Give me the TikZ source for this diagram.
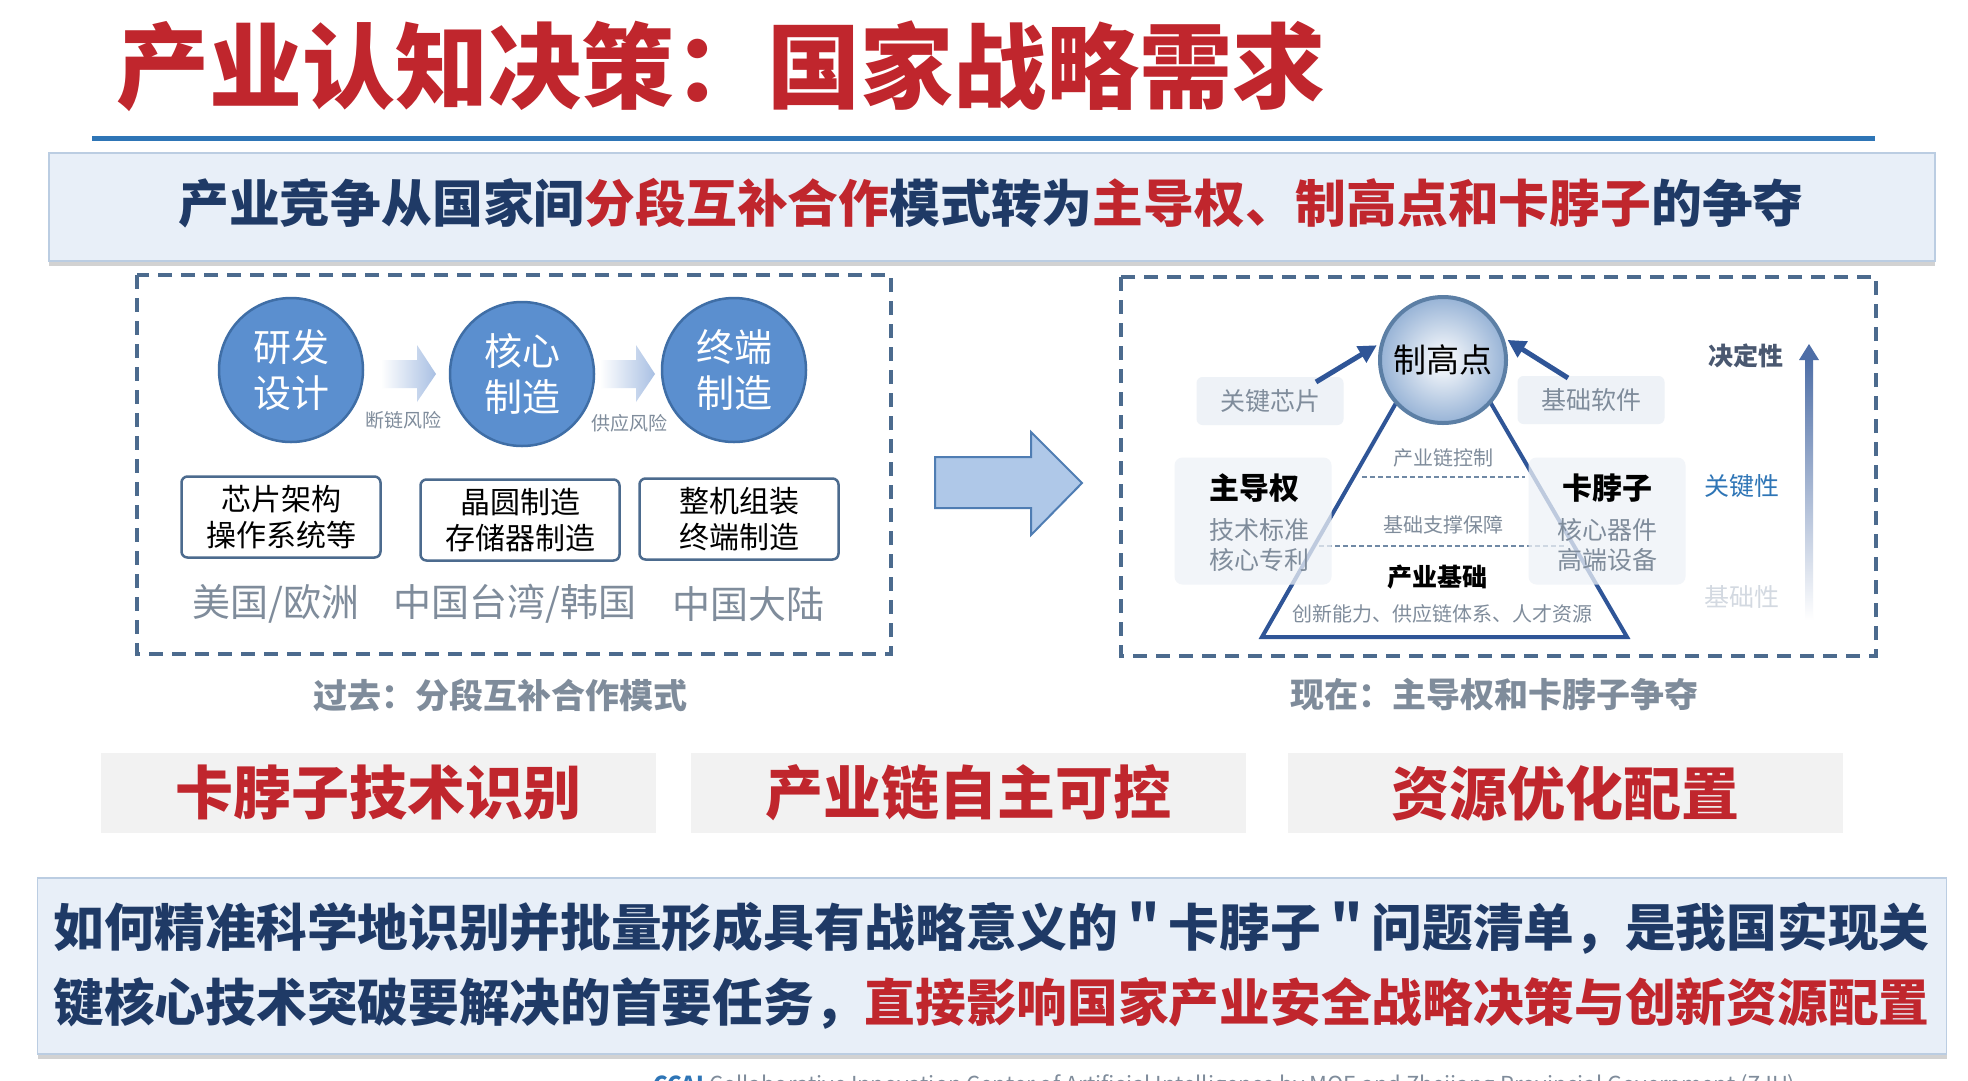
\documentclass[tikz,border=0pt]{standalone}
\usepackage{fontspec}
\setmainfont{Noto Sans CJK SC}
\usetikzlibrary{shadows,arrows.meta}
\definecolor{tred}{HTML}{C0262D}
\definecolor{navy}{HTML}{1F3A66}
\definecolor{cblue}{HTML}{5B8FCF}
\definecolor{cedge}{HTML}{3F6EA6}
\definecolor{dashc}{HTML}{4C6B8E}
\definecolor{gtext}{HTML}{7F8C9B}
\definecolor{darr}{HTML}{2F5597}
\definecolor{hbox}{HTML}{E8EFF8}
\definecolor{hedge}{HTML}{BBCDE2}
\definecolor{lbox}{HTML}{EEF2F7}
\definecolor{gbox}{HTML}{F2F2F2}
\definecolor{lineblue}{HTML}{2E75B6}
\definecolor{sarrow}{HTML}{A9C0E3}
\definecolor{bigarr}{HTML}{AFC8E8}
\definecolor{bigedge}{HTML}{4F7DB3}
\definecolor{keyblue}{HTML}{2E75B6}
\definecolor{faint}{HTML}{D3D9E1}
\definecolor{balledge}{HTML}{5C7FA5}
\definecolor{ballout}{HTML}{97B3D6}
\definecolor{levdark}{HTML}{4A5870}
\newcommand\fsz[2]{\fontsize{#1}{#2}\selectfont}
\begin{document}
\begin{tikzpicture}[x=1pt,y=-1pt,
  dbox/.style={draw=dashc,line width=3.5pt,dash pattern=on 14pt off 9pt},
  circ/.style={circle,minimum size=144pt,inner sep=0pt,fill=cblue,draw=cedge,line width=2.5pt,text=white,align=center,font=\fsz{38pt}{46pt}},
  ibox/.style={draw=dashc,line width=2.5pt,rounded corners=6pt,fill=white,minimum width=199pt,minimum height=81pt,align=center,font=\fsz{30pt}{36pt}},
  region/.style={text=gtext,font=\fsz{38pt}{40pt}},
  caption/.style={text=gtext,font=\bfseries\fsz{34pt}{36pt}},
  risk/.style={text=gtext,font=\fsz{19pt}{22pt}},
  lbl/.style={fill=lbox,rounded corners=6pt,text=gtext,font=\fsz{25pt}{28pt},minimum width=147pt,minimum height=48pt},
  sbox/.style={fill=lbox,fill opacity=0.75,text opacity=1,rounded corners=8pt,minimum width=157pt,minimum height=127pt},
  conn/.style={draw=darr,line width=5pt,-{Triangle[length=18pt,width=18pt]}},
  redbox/.style={fill=gbox,minimum width=555pt,minimum height=80pt,text=tred,font=\bfseries\fsz{58pt}{60pt}},
  tri/.style={text=gtext,font=\fsz{20pt}{22pt}},
  lev/.style={font=\fsz{25pt}{28pt}}
]
\useasboundingbox (0,0) rectangle (1968,1080);
\clip (0,0) rectangle (1968,1080);
\fill[white] (0,0) rectangle (1968,1080);

% title
\node[text=tred,font=\bfseries\fsz{93pt}{96pt}] (title) at (721,66) {产业认知决策：国家战略需求};
\draw[lineblue,line width=5pt] (92,138) -- (1875,138);

% header band
\node[fill=hbox,draw=hedge,line width=1.5pt,minimum width=1886pt,minimum height=108pt,
  drop shadow={opacity=0.35,shadow xshift=0pt,shadow yshift=-5pt}] (hdr) at (992,207) {};
\node[text=navy,font=\bfseries\fsz{50.8pt}{54pt}] (hdrtext) at (991,203)
  {产业竞争从国家间\textcolor{tred}{分段互补合作}模式转为\textcolor{tred}{主导权、制高点和卡脖子}的争夺};

% left panel
\draw[dbox] (137,275) rectangle (891,654);
\node[circ] (c1) at (291,370) {研发\\设计};
\node[circ] (c2) at (522,374) {核心\\制造};
\node[circ] (c3) at (734,370) {终端\\制造};
\shade[left color=white,right color=sarrow] (381,360) -- (417,360) -- (417,345) -- (436,374) -- (417,402) -- (417,388) -- (381,388) -- cycle;
\shade[left color=white,right color=sarrow] (600,360) -- (636,360) -- (636,345) -- (655,374) -- (636,402) -- (636,388) -- (600,388) -- cycle;
\node[risk] (r1) at (403,420) {断链风险};
\node[risk] (r2) at (629,423) {供应风险};
\node[ibox] (b1) at (281,517) {芯片架构\\操作系统等};
\node[ibox] (b2) at (520,520) {晶圆制造\\存储器制造};
\node[ibox] (b3) at (739,519) {整机组装\\终端制造};
\node[region] (g1) at (276,604) {美国/欧洲};
\node[region] (g2) at (515,604) {中国台湾/韩国};
\node[region] (g3) at (748,604) {中国大陆};
\node[caption] (cap1) at (500,695) {过去：分段互补合作模式};

% big arrow
\draw[fill=bigarr,draw=bigedge,line width=2pt,line join=miter] (935,457) -- (1031,457) -- (1031,432) -- (1082,483) -- (1031,535) -- (1031,508) -- (935,508) -- cycle;

% right panel
\draw[dbox] (1121,277) rectangle (1876,656);
\draw[fill=white,draw=darr,line width=4pt,line join=miter] (1443,321) -- (1627,637) -- (1262,637) -- cycle;
\draw[draw=dashc!80,line width=2pt,dash pattern=on 5pt off 3pt] (1362,477) -- (1525,477);
\draw[draw=dashc!80,line width=2pt,dash pattern=on 5pt off 3pt] (1319,546) -- (1567,546);
\node[tri] (t1) at (1443,458) {产业链控制};
\node[tri] (t2) at (1443,525) {基础支撑保障};
\node[font=\bfseries\fsz{25pt}{28pt}] (t3) at (1437,577) {产业基础};
\node[tri] (t4) at (1442,614) {创新能力、供应链体系、人才资源};

\node[sbox] (sl) at (1253,521) {};
\node[font=\bfseries\fsz{30pt}{32pt}] (zdq) at (1254,488) {主导权};
\node[text=gtext,align=center,font=\fsz{25pt}{30pt}] (zdqs) at (1259,545) {技术标准\\核心专利};
\node[sbox] (sr) at (1607,521) {};
\node[font=\bfseries\fsz{30pt}{32pt}] (kbz) at (1607,488) {卡脖子};
\node[text=gtext,align=center,font=\fsz{25pt}{30pt}] (kbzs) at (1607,545) {核心器件\\高端设备};

\node[lbl] (kx) at (1270,401) {关键芯片};
\node[lbl] (jc) at (1591,400) {基础软件};

\node[circle,minimum size=126pt,inner sep=0pt,inner color=white,outer color=ballout,draw=balledge,line width=4pt,
  font=\fsz{33pt}{36pt}] (top) at (1443,360) {制高点};

\coordinate (a1s) at (1316,382);
\coordinate (a2s) at (1568,378);
\draw[conn,shorten >=4pt] (a1s) -- (top.165);
\draw[conn,shorten >=4pt] (a2s) -- (top.20);

% level arrow
\shade[top color=darr!85,bottom color=white] (1805,358) rectangle (1813,620);
\fill[darr!85] (1799,360) -- (1809,344) -- (1819,360) -- cycle;
\node[lev,text=levdark,font=\bfseries\fsz{25pt}{28pt}] (l1) at (1746,356) {决定性};
\node[lev,text=keyblue] (l2) at (1742,486) {关键性};
\node[lev,text=faint] (l3) at (1742,597) {基础性};
\node[caption] (cap2) at (1494,695) {现在：主导权和卡脖子争夺};

% red boxes
\node[redbox] (k1) at (378,793) {卡脖子技术识别};
\node[redbox] (k2) at (968,793) {产业链自主可控};
\node[redbox] (k3) at (1565,793) {资源优化配置};

% bottom band
\node[fill=hbox,draw=hedge,line width=1.5pt,minimum width=1909pt,minimum height=176pt,
  drop shadow={opacity=0.35,shadow xshift=0pt,shadow yshift=-5pt}] (bot) at (992,966) {};
\node[anchor=west,align=left,text=navy,font=\bfseries\fsz{50.7pt}{75pt}] (bottext) at (50,966)
  {如何精准科学地识别并批量形成具有战略意义的＂卡脖子＂问题清单，是我国实现关\\
   键核心技术突破要解决的首要任务，\textcolor{tred}{直接影响国家产业安全战略决策与创新资源配置}};

% footer (cut off by the lower edge, as in the source)
\node[anchor=west,text=gtext,font=\fsz{22pt}{24pt}] (foot) at (650,1086)
  {\textcolor{keyblue}{\bfseries CCAI} Collaborative Innovation Center of Artificial Intelligence by MOE and Zhejiang Provincial Government (ZJU)};
\end{tikzpicture}
\end{document}
